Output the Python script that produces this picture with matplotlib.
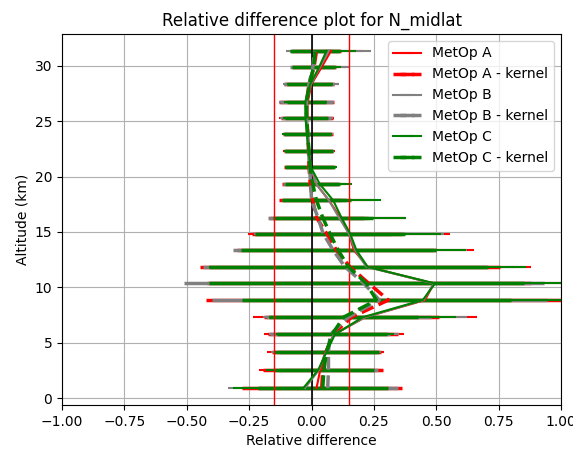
import matplotlib
matplotlib.use('Agg')
import matplotlib.pyplot as plt

# altitude levels (km)
alt = [0.9, 2.55, 4.2, 5.75, 7.3, 8.85, 10.35, 11.85, 13.35, 14.85, 16.3,
       17.85, 19.3, 20.85, 22.35, 23.8, 25.25, 26.75, 28.35, 29.85, 31.35]

# relative differences
metop_a = [0.02, 0.035, 0.055, 0.09, 0.215, 0.455, 0.49, 0.225, 0.17, 0.15, 0.115,
           0.07, 0.02, -0.005, -0.01, -0.015, -0.02, -0.015, 0.0, 0.04, 0.078]
metop_a_k = [0.041, 0.045, 0.06, 0.085, 0.16, 0.308, 0.23, 0.154, 0.10, 0.061, 0.02,
             0.005, -0.005, -0.01, -0.012, -0.015, -0.018, -0.02, -0.01, 0.01, 0.02]
metop_b = [-0.026, 0.03, 0.058, 0.09, 0.215, 0.45, 0.49, 0.22, 0.175, 0.15, 0.11,
           0.07, 0.02, -0.003, -0.01, -0.015, -0.02, -0.02, -0.002, 0.033, 0.069]
metop_b_k = [0.065, 0.068, 0.068, 0.075, 0.147, 0.272, 0.21, 0.134, 0.087, 0.047, 0.026,
             0.0, -0.003, -0.008, -0.012, -0.015, -0.02, -0.02, -0.01, 0.005, 0.012]
metop_c = [-0.033, 0.027, 0.061, 0.094, 0.205, 0.446, 0.495, 0.225, 0.18, 0.155, 0.12,
           0.087, 0.034, -0.003, -0.012, -0.018, -0.024, -0.025, -0.005, 0.03, 0.06]
metop_c_k = [0.045, 0.05, 0.06, 0.083, 0.128, 0.26, 0.22, 0.148, 0.107, 0.074, 0.045,
             0.02, 0.005, -0.006, -0.01, -0.015, -0.02, -0.02, -0.008, 0.008, 0.015]

# standard deviations
err_a = [0.30, 0.245, 0.235, 0.28, 0.45, 0.70, 0.70, 0.655, 0.48, 0.405, 0.26,
         0.18, 0.12, 0.10, 0.105, 0.10, 0.11, 0.10, 0.105, 0.10, 0.13]
err_a_k = [0.32, 0.24, 0.22, 0.26, 0.35, 0.73, 0.65, 0.60, 0.40, 0.30, 0.19,
           0.135, 0.115, 0.10, 0.10, 0.10, 0.105, 0.11, 0.10, 0.09, 0.10]
err_b = [0.31, 0.21, 0.22, 0.26, 0.41, 0.60, 0.75, 0.60, 0.45, 0.38, 0.27,
         0.17, 0.12, 0.10, 0.10, 0.10, 0.108, 0.11, 0.112, 0.116, 0.17]
err_b_k = [0.28, 0.20, 0.20, 0.24, 0.33, 0.67, 0.72, 0.57, 0.40, 0.27, 0.20,
           0.12, 0.11, 0.095, 0.095, 0.095, 0.10, 0.105, 0.10, 0.09, 0.10]
err_c = [0.28, 0.21, 0.20, 0.235, 0.375, 0.60, 0.60, 0.635, 0.44, 0.365, 0.26,
         0.19, 0.13, 0.105, 0.10, 0.10, 0.09, 0.086, 0.092, 0.09, 0.12]
err_c_k = [0.26, 0.20, 0.21, 0.22, 0.30, 0.54, 0.63, 0.56, 0.39, 0.30, 0.20,
           0.14, 0.11, 0.10, 0.095, 0.095, 0.088, 0.08, 0.09, 0.085, 0.10]

fig = plt.figure(figsize=(5.73, 4.49), dpi=100)
ax = fig.add_axes([62/573, 1 - 405/449, 499/573, 371/449])

series = [
    (metop_a, err_a, 'red', '-', 1.5, 'MetOp A'),
    (metop_a_k, err_a_k, 'red', '--', 2.5, 'MetOp A - kernel'),
    (metop_b, err_b, 'gray', '-', 1.5, 'MetOp B'),
    (metop_b_k, err_b_k, 'gray', '--', 2.5, 'MetOp B - kernel'),
    (metop_c, err_c, 'green', '-', 1.5, 'MetOp C'),
    (metop_c_k, err_c_k, 'green', '--', 2.5, 'MetOp C - kernel'),
]
for vals, errs, col, ls, lw, lab in series:
    ax.errorbar(vals, alt, xerr=errs, color=col, linestyle=ls, linewidth=lw, label=lab)

ax.axvline(0, color='k', linewidth=1.2)
ax.axvline(-0.15, color='red', linewidth=1)
ax.axvline(0.15, color='red', linewidth=1)

ax.set_xlim(-1, 1)
ax.set_xticks([-1, -0.75, -0.5, -0.25, 0, 0.25, 0.5, 0.75, 1])
ax.set_xticklabels(['−1.00', '−0.75', '−0.50', '−0.25', '0.00', '0.25', '0.50', '0.75', '1.00'])
ax.grid(True)
ax.set_xlabel('Relative difference')
ax.set_ylabel('Altitude (km)')
ax.set_title('Relative difference plot for N_midlat')
ax.legend(loc='upper right')

fig.savefig('out.png', dpi=100)
